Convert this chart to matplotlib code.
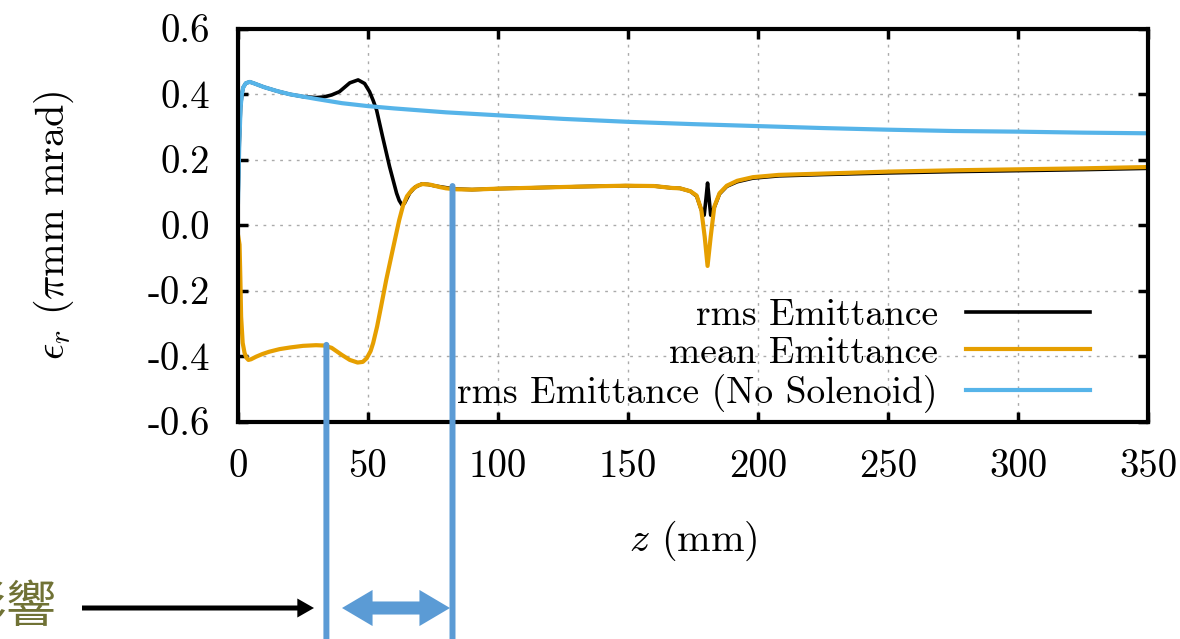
import matplotlib

matplotlib.use("Agg")
import matplotlib.pyplot as plt
from matplotlib.patches import FancyArrowPatch
from matplotlib.transforms import blended_transform_factory

plt.rcParams["font.family"] = ["cmr10", "DejaVu Serif"]
plt.rcParams["mathtext.fontset"] = "cm"
plt.rcParams["axes.unicode_minus"] = False

# rms emittance without solenoid
z_nosol = [0, 0.5, 1, 1.5, 2, 3, 4.5, 6, 10, 15, 20, 30, 40, 50, 60, 80, 100,
           125, 150, 175, 200, 225, 250, 275, 300, 325, 350]
eps_nosol = [0.07, 0.25, 0.36, 0.40, 0.42, 0.433, 0.437, 0.433, 0.421, 0.409,
             0.399, 0.385, 0.372, 0.363, 0.356, 0.344, 0.335, 0.324, 0.315,
             0.308, 0.302, 0.296, 0.291, 0.287, 0.285, 0.282, 0.280]

# rms emittance with solenoid
z_rms = [0, 0.5, 1, 1.5, 2, 3, 4.5, 6, 10, 15, 20, 25, 30, 33, 36, 39, 43, 46.2,
         48.7, 50.6, 52, 53.3, 55.6, 58.3, 61, 62, 63, 64, 66, 68, 70.6, 73, 76,
         80, 84, 90, 100, 115, 130, 149, 160, 167, 170, 174, 176.4, 178.2,
         179.3, 180.0, 180.6, 181.2, 181.8, 183.2, 185.2, 188, 192, 198, 208,
         225, 250, 275, 300, 325, 350]
eps_rms = [0.07, 0.25, 0.36, 0.40, 0.42, 0.433, 0.437, 0.433, 0.421, 0.409,
           0.399, 0.392, 0.389, 0.391, 0.397, 0.407, 0.434, 0.443, 0.432, 0.407,
           0.38, 0.351, 0.27, 0.178, 0.097, 0.075, 0.062, 0.066, 0.097, 0.115,
           0.125, 0.124, 0.119, 0.114, 0.11, 0.108, 0.111, 0.114, 0.117, 0.12,
           0.119, 0.113, 0.112, 0.103, 0.088, 0.046, 0.03, 0.08, 0.128, 0.08,
           0.03, 0.054, 0.095, 0.118, 0.132, 0.143, 0.150, 0.154, 0.159, 0.163,
           0.166, 0.169, 0.173]

# mean emittance with solenoid
z_mean = [0, 0.6, 0.9, 1.2, 1.8, 2.5, 3.2, 4, 5, 7, 9.4, 12, 16, 20, 25, 30, 33,
          36, 40, 43, 46, 48, 49.5, 51, 52, 53.5, 55, 57, 59.5, 62, 63.5, 65, 67,
          69, 71, 74, 77.5, 80, 84, 90, 100, 115, 130, 149, 160, 167, 170, 174,
          176.4, 178.2, 179.5, 180.6, 181.8, 183.2, 185.2, 188, 192, 198, 208,
          225, 250, 275, 300, 325, 350]
eps_mean = [-0.03, -0.06, -0.16, -0.28, -0.36, -0.39, -0.405, -0.412, -0.41,
            -0.402, -0.394, -0.387, -0.379, -0.374, -0.369, -0.367, -0.368,
            -0.375, -0.397, -0.412, -0.42, -0.418, -0.407, -0.385, -0.36, -0.31,
            -0.25, -0.168, -0.076, 0.015, 0.06, 0.088, 0.108, 0.12, 0.125, 0.123,
            0.116, 0.112, 0.109, 0.108, 0.111, 0.114, 0.117, 0.12, 0.119, 0.113,
            0.112, 0.103, 0.09, 0.046, -0.036, -0.125, -0.036, 0.056, 0.097,
            0.12, 0.135, 0.146, 0.153, 0.157, 0.163, 0.167, 0.170, 0.173, 0.177]

x_ticks = [0, 50, 100, 150, 200, 250, 300, 350]
y_ticks = [-0.6, -0.4, -0.2, 0.0, 0.2, 0.4, 0.6]
y_tick_labels = ["-0.6", "-0.4", "-0.2", "0.0", "0.2", "0.4", "0.6"]

# marked region (z in mm) and curve heights where the markers start
mark_z = [34, 82.5]
mark_top = [-0.366, 0.119]

fig = plt.figure(figsize=(11.8, 6.39), dpi=100)
ax = fig.add_axes([238 / 1180, 1 - 421.5 / 639, 910 / 1180, 393 / 639])

ax.plot(z_rms, eps_rms, color="black", lw=2.6, label="rms Emittance")
ax.plot(z_mean, eps_mean, color="#e69f00", lw=3.0, label="mean Emittance")
ax.plot(z_nosol, eps_nosol, color="#56b4e9", lw=3.0,
        label="rms Emittance (No Solenoid)")

ax.set_xlim(0, 350)
ax.set_ylim(-0.6, 0.6)
ax.set_xticks(x_ticks)
ax.set_xticklabels([str(t) for t in x_ticks])
ax.set_yticks(y_ticks)
ax.set_yticklabels(y_tick_labels)
ax.tick_params(direction="in", length=7, width=2.5, labelsize=28, pad=20,
               top=True, right=True)
for s in ax.spines.values():
    s.set_linewidth(3)
ax.grid(True, color="#aaaaaa", lw=1, linestyle=(0, (2, 4)))

ax.set_xlabel("$z$ (mm)", fontsize=29, labelpad=24)
ax.set_ylabel(r"$\epsilon_r$ ($\pi$mm mrad)", fontsize=29, labelpad=52)

ax.legend(loc="lower right", bbox_to_anchor=(0.936, 0.022), markerfirst=False,
          frameon=False, fontsize=27, handlelength=3.3, handletextpad=0.75,
          labelspacing=0.12, borderpad=0, borderaxespad=0)

# annotation overlay (slide markup)
bt = blended_transform_factory(ax.transData, fig.transFigure)
for zx, top in zip(mark_z, mark_top):
    ax.annotate("", xy=(zx, top), xycoords="data", xytext=(zx, 0), textcoords=bt,
                arrowprops=dict(arrowstyle="-", lw=4.3, color="#5b9bd5",
                                shrinkA=0, shrinkB=0))

y_arr = 1 - 608 / 639
mid = (342 + 450) / 2 / 1180
for end in (342 / 1180, 450 / 1180):
    fig.patches.append(FancyArrowPatch(
        (mid, y_arr), (end, y_arr), transform=fig.transFigure,
        arrowstyle="simple,tail_width=9.4,head_width=26,head_length=22",
        mutation_scale=1, color="#5b9bd5", lw=0, shrinkA=0, shrinkB=0))
fig.patches.append(FancyArrowPatch(
    (82 / 1180, y_arr), (314 / 1180, y_arr), transform=fig.transFigure,
    arrowstyle="simple,tail_width=3.6,head_width=13.7,head_length=12",
    mutation_scale=1, color="black", lw=0, shrinkA=0, shrinkB=0))

fig.text(56 / 1180, y_arr, "影響", ha="right", va="center", fontsize=36,
         color="#707235", family=["Noto Sans CJK TC", "DejaVu Sans"])

fig.savefig("out.png", dpi=100)
